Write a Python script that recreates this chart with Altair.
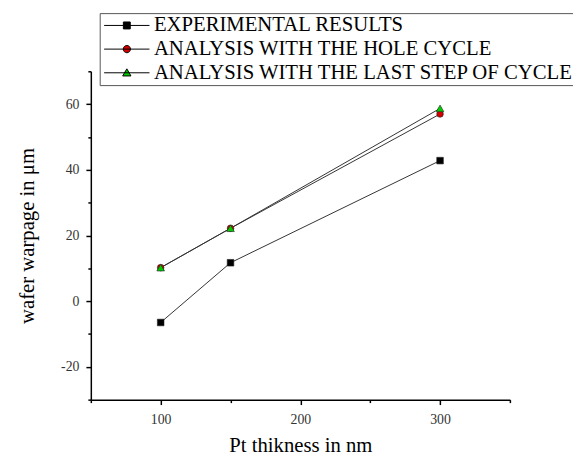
import altair as alt
import pandas as pd

thickness = [100, 150, 300]
experimental = [-6.5, 11.7, 42.8]
hole_cycle = [10.2, 22.2, 57.0]
last_step = [10.2, 22.2, 58.7]

series_names = [
    "EXPERIMENTAL RESULTS",
    "ANALYSIS WITH THE HOLE CYCLE",
    "ANALYSIS WITH THE LAST STEP OF CYCLE",
]
series_colors = ["#000000", "#d40000", "#00cc00"]
marker_shapes = ["square", "circle", "triangle-up"]
# legend symbols (unit = 8px): line from -8px to +38px, marker at +15px
legend_paths = [
    "M-1,0H4.75M1.44,-0.44H2.31V0.44H1.44Z",
    "M-1,0H4.75M1.42,0A0.46,0.46 0 1,0 2.34,0A0.46,0.46 0 1,0 1.42,0Z",
    "M-1,0H4.75M1.875,-0.5L2.4,0.4L1.35,0.4Z",
]
x_ticks = [50, 100, 150, 200, 250, 300, 350]
y_ticks = [-30, -20, -10, 0, 10, 20, 30, 40, 50, 60, 70]

rows = []
for name, vals in zip(series_names, [experimental, hole_cycle, last_step]):
    for t, v in zip(thickness, vals):
        rows.append({"series": name, "thickness": t, "warpage": v})
df = pd.DataFrame(rows)

FONT = "Liberation Serif"

x_enc = alt.X(
    "thickness:Q",
    scale=alt.Scale(domain=[50, 350], nice=False, zero=False),
    axis=alt.Axis(
        title="Pt thikness in nm",
        values=x_ticks,
        labelExpr="datum.value % 100 == 0 ? '' + datum.value : ''",
        tickSize={"condition": {"test": "datum.value % 100 == 0", "value": 5}, "value": 3},
        labelOverlap=False,
        grid=False,
        domainColor="black",
        domainWidth=1.5,
        tickColor="black",
        tickWidth=1.5,
        labelFont=FONT,
        labelFontSize=14,
        labelColor="#333333",
        labelPadding=8,
        titleFont=FONT,
        titleFontSize=21,
        titleFontWeight="normal",
        titleColor="black",
        titlePadding=9,
    ),
)
y_enc = alt.Y(
    "warpage:Q",
    scale=alt.Scale(domain=[-30, 70], nice=False, zero=False),
    axis=alt.Axis(
        title="wafer warpage in μm",
        values=y_ticks,
        labelExpr="datum.value % 20 == 0 ? '' + datum.value : ''",
        tickSize={"condition": {"test": "datum.value % 20 == 0", "value": 5}, "value": 3},
        labelOverlap=False,
        grid=False,
        domainColor="black",
        domainWidth=1.5,
        tickColor="black",
        tickWidth=1.5,
        labelFont=FONT,
        labelFontSize=14,
        labelColor="#333333",
        labelPadding=7,
        titleFont=FONT,
        titleFontSize=21,
        titleFontWeight="normal",
        titleColor="black",
        titlePadding=23,
    ),
)

base = alt.Chart(df).encode(x=x_enc, y=y_enc)

lines = base.mark_line(color="#333333", strokeWidth=1).encode(detail="series:N")

point_layers = []
for name, col, shp, sz in zip(series_names, series_colors, marker_shapes, [45, 45, 60]):
    point_layers.append(
        base.transform_filter(alt.datum.series == name)
        .mark_point(filled=True, shape=shp, size=sz, color=col, stroke="#222222",
                    strokeWidth=0.6, opacity=1)
    )

legend_layer = (
    base.transform_filter("false")
    .mark_point(filled=True, opacity=1, stroke="#000000", strokeWidth=1)
    .encode(
        color=alt.Color(
            "series:N",
            scale=alt.Scale(domain=series_names, range=series_colors),
            legend=alt.Legend(
                title=None,
                orient="none",
                legendX=9,
                legendY=-59,
                strokeColor="#555555",
                fillColor="white",
                padding=2,
                labelFont=FONT,
                labelFontSize=21,
                labelColor="black",
                labelOffset=32,
                symbolSize=256,
                symbolStrokeColor="black",
                symbolStrokeWidth=1,
                rowPadding=2,
                labelLimit=700,
            ),
        ),
        shape=alt.Shape(
            "series:N",
            scale=alt.Scale(domain=series_names, range=legend_paths),
            legend=alt.Legend(
                title=None,
                orient="none",
                legendX=9,
                legendY=-59,
            ),
        ),
    )
)

chart = (
    alt.layer(lines, *point_layers, legend_layer)
    .properties(
        width=425,
        height=333,
        padding={"left": 84, "top": 61, "right": 64, "bottom": 58},
        autosize="none",
        background="white",
    )
    .configure_view(stroke=None)
)

chart.save("out.html", embed_options={"renderer": "svg", "actions": False})
